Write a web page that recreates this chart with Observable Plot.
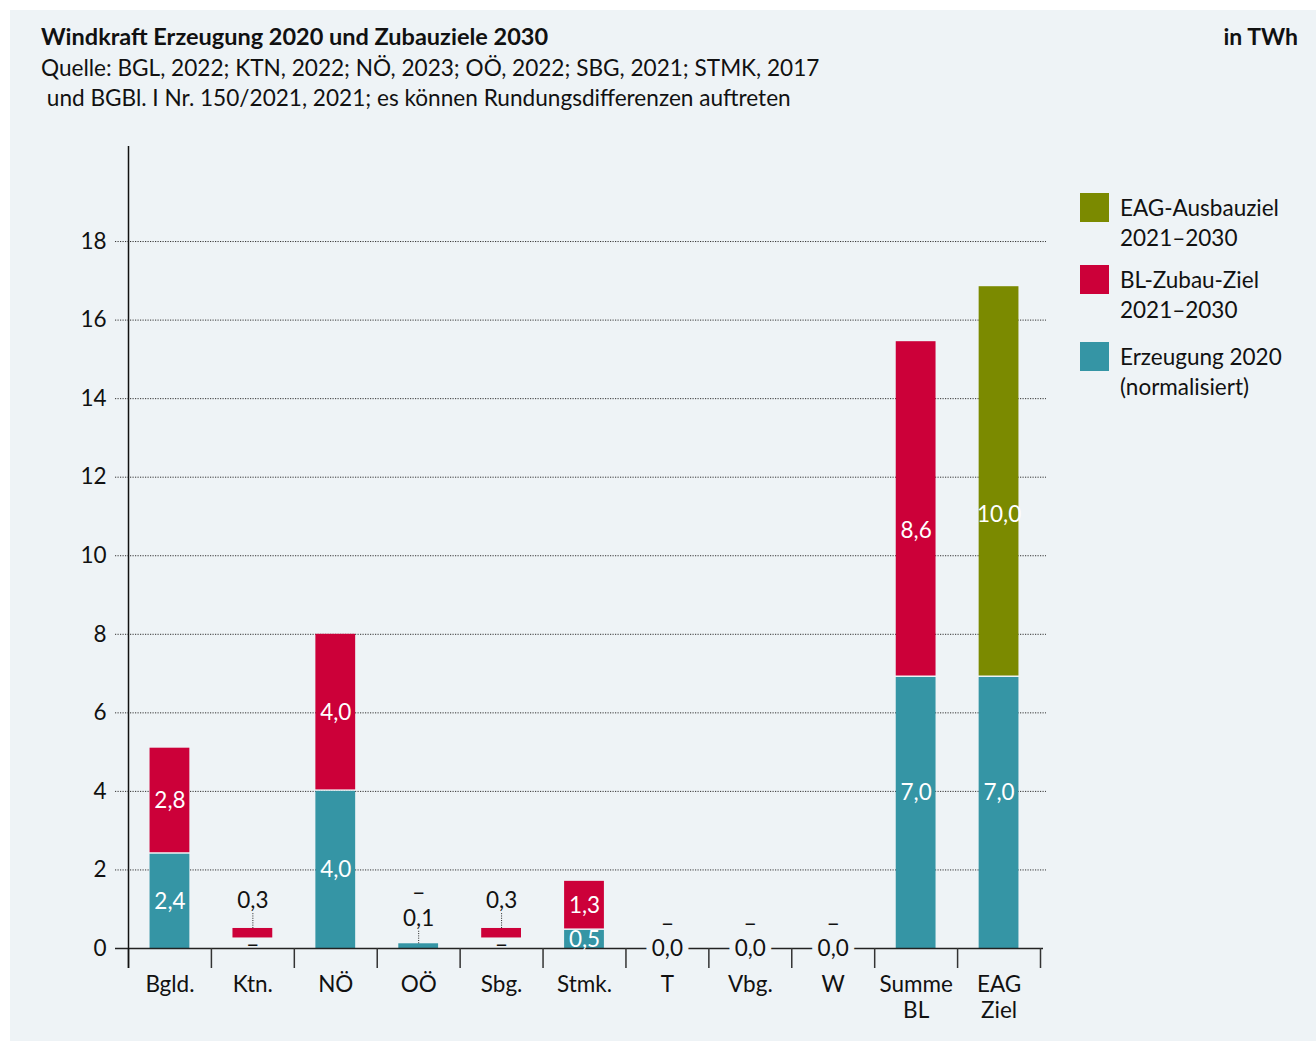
<!DOCTYPE html>
<html>
<head>
<meta charset="utf-8">
<script src="https://cdn.jsdelivr.net/npm/d3@7"></script>
<script src="https://cdn.jsdelivr.net/npm/@observablehq/plot@0.6"></script>
<style>
  html, body { margin: 0; padding: 0; background: #ffffff; }
  body { width: 1316px; height: 1041px; position: relative; overflow: hidden; font-family: Lato, "Noto Sans", sans-serif; color: #111; }
  #fig { position: absolute; left: 10px; top: 10px; width: 1306px; height: 1031px; background: #eef3f6; }
  .t { position: absolute; white-space: pre; line-height: 30px; }
  #title { left: 31px; top: 11px; font-size: 23.5px; font-weight: 700; }
  #unit { right: 18px; top: 11px; font-size: 23px; font-weight: 700; }
  #sub { left: 31px; top: 43px; font-size: 22.6px; }
  #chart { position: absolute; left: 0; top: 120px; }
  .leg { position: absolute; left: 1070px; font-size: 22.5px; line-height: 30px; }
  .sw { position: absolute; left: 0; top: 0; width: 29px; height: 29px; }
  .lt { position: absolute; left: 40px; top: 0px; white-space: pre; }
  .dash text { font-family: "DejaVu Sans", sans-serif; }
</style>
</head>
<body>
<div id="fig">
  <div id="title" class="t">Windkraft Erzeugung 2020 und Zubauziele 2030</div>
  <div id="unit" class="t">in TWh</div>
  <div id="sub" class="t">Quelle: BGL, 2022; KTN, 2022; NÖ, 2023; OÖ, 2022; SBG, 2021; STMK, 2017
 und BGBl. I Nr. 150/2021, 2021; es können Rundungsdifferenzen auftreten</div>
  <div id="chart"></div>
  <div id="legend"></div>
</div>
<script>
// ---------- data ----------
const categories = ["Bgld.", "Ktn.", "NÖ", "OÖ", "Sbg.", "Stmk.", "T", "Vbg.", "W", "Summe BL", "EAG Ziel"];
const categoryLabels = ["Bgld.", "Ktn.", "NÖ", "OÖ", "Sbg.", "Stmk.", "T", "Vbg.", "W", "Summe\nBL", "EAG\nZiel"];
// Erzeugung 2020 (normalisiert), TWh
const erzeugung = [2.4, 0, 4.0, 0.12, 0, 0.46, 0, 0, 0, 6.9, 6.9];
// BL-Zubau-Ziel 2021–2030: start and amount, TWh
const zubauBasis = [2.4, 0.23, 4.0, 0.12, 0.23, 0.46, 0, 0, 0, 6.9, 6.9];
const zubau = [2.7, 0.28, 4.0, 0, 0.28, 1.25, 0, 0, 0, 8.55, 0];
// EAG-Ausbauziel 2021–2030, TWh
const eag = [0, 0, 0, 0, 0, 0, 0, 0, 0, 0, 9.95];
// printed value labels
const erzeugungText = ["2,4", "–", "4,0", "0,1", "–", "0,5", "0,0", "0,0", "0,0", "7,0", "7,0"];
const zubauText = ["2,8", "0,3", "4,0", "–", "0,3", "1,3", "–", "–", "–", "8,6", ""];
const eagText = ["", "", "", "", "", "", "", "", "", "", "10,0"];
// where the printed labels of the two sum bars sit (TWh)
const labelAnchor = { erz: 3.97, zubauSumme: 10.64, eag: 11.05 };
const yTicks = [0, 2, 4, 6, 8, 10, 12, 14, 16, 18];
const legendItems = [
  { label: "EAG-Ausbauziel\n2021–2030", color: "#7b8a00", top: 183 },
  { label: "BL-Zubau-Ziel\n2021–2030", color: "#cc0039", top: 255 },
  { label: "Erzeugung 2020\n(normalisiert)", color: "#3595a5", top: 332 }
];

const TEAL = "#3595a5", RED = "#cc0039", OLIVE = "#7b8a00", BG = "#eef3f6";
const FS = 22.5;

// ---------- layout ----------
const W = 1306, H = 911, mL = 118, mR = 276, mT = 16, mB = 93;
const yMax = 20.42;
const pxPerUnit = (H - mT - mB) / yMax;
const step = (W - mL - mR) / categories.length;
const u = px => px / pxPerUnit;

const rows = categories.map((c, i) => ({
  cat: c, label: categoryLabels[i],
  erz: erzeugung[i], zb: zubauBasis[i], zub: zubau[i], eag: eag[i]
}));

// ---------- labels ----------
const white = [], black = [], halo = [], leaders = [];
rows.forEach((r, i) => {
  const big = v => v >= 0.4;
  if (r.erz === 0 && r.zub === 0) {
    halo.push({ cat: r.cat, y: 0, t: erzeugungText[i] });
    black.push({ cat: r.cat, y: 0, off: -27, t: zubauText[i] });
    return;
  }
  if (big(r.erz)) {
    const y = r.eag > 0 || r.zub > 5 ? labelAnchor.erz : r.erz / 2;
    white.push({ cat: r.cat, y, t: erzeugungText[i] });
  } else if (r.erz > 0) {
    black.push({ cat: r.cat, y: r.erz, off: -25, t: erzeugungText[i] });
    leaders.push({ cat: r.cat, y1: r.erz, y2: r.erz + u(13) });
    black.push({ cat: r.cat, y: r.erz, off: -53, t: zubauText[i] });
  } else {
    black.push({ cat: r.cat, y: 0, off: -6, t: erzeugungText[i] });
  }
  if (big(r.zub)) {
    const y = r.zub > 5 ? labelAnchor.zubauSumme : r.zb + r.zub / 2;
    white.push({ cat: r.cat, y, t: zubauText[i] });
  } else if (r.zub > 0) {
    const top = r.zb + r.zub;
    black.push({ cat: r.cat, y: top, off: -28, t: zubauText[i] });
    leaders.push({ cat: r.cat, y1: top, y2: top + u(16) });
  }
  if (r.eag > 0) white.push({ cat: r.cat, y: labelAnchor.eag, t: eagText[i] });
});
const blackMarks = Array.from(d3.group(black, d => d.off, d => d.t === "–"), ([off, byDash]) =>
  Array.from(byDash, ([isDash, arr]) =>
    Plot.text(arr, {
      x: "cat", y: "y", dy: off + (isDash ? 2 : 0), text: "t", fill: "#111",
      fontSize: isDash ? 23 : FS,
      className: isDash ? "dash" : undefined
    }))).flat();

const chart = Plot.plot({
  width: W, height: H,
  marginLeft: mL, marginRight: mR, marginTop: mT, marginBottom: mB,
  style: { background: "transparent", fontFamily: "Lato, 'Noto Sans', sans-serif", fontSize: FS + "px", color: "#111", overflow: "visible" },
  x: { domain: categories, paddingInner: 0.52, paddingOuter: 0.26, round: false, axis: null },
  y: { domain: [0, yMax], axis: null },
  marks: [
    Plot.ruleY(yTicks.filter(d => d > 0), { stroke: "#333", strokeWidth: 1, strokeDasharray: "1.2,1.3", insetLeft: -13, insetRight: -6 }),
    Plot.axisY(yTicks, { tickSize: 0, tickPadding: 22, fontSize: FS, fill: "#111" }),
    Plot.barY(rows.filter(d => d.erz > 0), { x: "cat", y1: 0, y2: "erz", fill: TEAL }),
    Plot.barY(rows.filter(d => d.zub > 0), { x: "cat", y1: "zb", y2: d => d.zb + d.zub, fill: RED, insetBottom: 1.5 }),
    Plot.barY(rows.filter(d => d.eag > 0), { x: "cat", y1: "erz", y2: d => d.erz + d.eag, fill: OLIVE, insetBottom: 1.5 }),
    Plot.ruleY([0], { stroke: "#222", strokeWidth: 1.5, insetLeft: -13, insetRight: -3 }),
    Plot.ruleX(categories, { x: d => d, y1: -u(20), y2: 0, dx: -step / 2, stroke: "#333", strokeWidth: 1.5 }),
    Plot.ruleX([categories[categories.length - 1]], { x: d => d, y1: -u(20), y2: 0, dx: step / 2, stroke: "#333", strokeWidth: 1.5 }),
    Plot.ruleX([categories[0]], { x: d => d, y1: -u(20), y2: yMax, dx: -step / 2, stroke: "#111", strokeWidth: 1.5 }),
    Plot.ruleX(leaders, { x: "cat", y1: "y1", y2: "y2", stroke: "#222", strokeWidth: 1, strokeDasharray: "1,1.3" }),
    Plot.text(white, { x: "cat", y: "y", text: "t", fill: "#ffffff", fontSize: FS }),
    ...blackMarks,
    Plot.text(halo, { x: "cat", y: "y", text: "t", fill: "#111", stroke: BG, strokeWidth: 12, fontSize: FS }),
    Plot.text(rows, { x: "cat", y: 0, text: "label", lineAnchor: "top", dy: 25, lineHeight: 1.16, fill: "#111", fontSize: FS })
  ]
});
document.getElementById("chart").appendChild(chart);

const leg = document.getElementById("legend");
legendItems.forEach(it => {
  const d = document.createElement("div");
  d.className = "leg";
  d.style.top = it.top + "px";
  d.innerHTML = `<div class="sw" style="background:${it.color}"></div><div class="lt">${it.label}</div>`;
  leg.appendChild(d);
});
</script>
</body>
</html>
